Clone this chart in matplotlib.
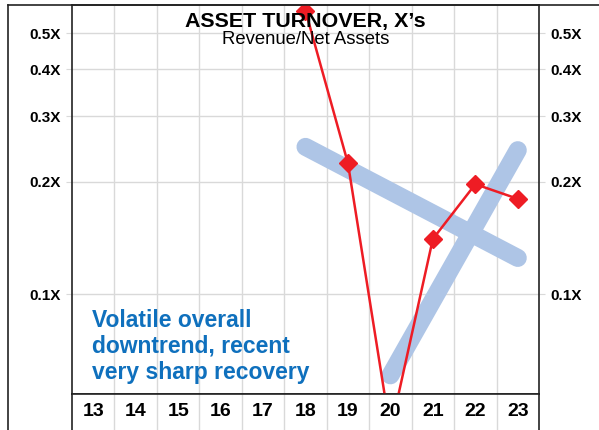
import matplotlib.pyplot as plt
import numpy as np
from matplotlib.lines import Line2D

plt.rcParams['font.family'] = ['Liberation Sans', 'DejaVu Sans']

years = [18, 19, 20, 21, 22, 23]
turnover = [0.574, 0.224, 0.043, 0.1405, 0.197, 0.180]

# hand drawn trend strokes
trend_down_x = [18, 23]
trend_down_y = [0.248, 0.125]
trend_up_x = [20, 23]
trend_up_y = [0.0606, 0.243]

cat_labels = ['13', '14', '15', '16', '17', '18', '19', '20', '21', '22', '23']
y_ticks = [0.1, 0.2, 0.3, 0.4, 0.5]
y_labels = ['0.1X', '0.2X', '0.3X', '0.4X', '0.5X']

W, H = 599, 430
fig = plt.figure(figsize=(W / 100, H / 100), dpi=100)

x0, x1 = 72 / W, 539 / W
ax = fig.add_axes([x0, 36 / H, x1 - x0, (394 - 5) / H])
tab = fig.add_axes([x0, 0, x1 - x0, 36 / H])

grid_c = '#d9d9d9'
blue = '#aec5e6'
red = '#ee1c24'

ax.set_yscale('log')
ax.set_ylim(0.054, 0.595)
ax.set_xlim(12.5, 23.5)

ax.plot(trend_down_x, trend_down_y, color=blue, lw=13, solid_capstyle='round', zorder=2)
ax.plot(trend_up_x, trend_up_y, color=blue, lw=13, solid_capstyle='round', zorder=2)
ax.plot(years, turnover, color=red, lw=1.8, marker='D', ms=9, zorder=3)

ax.set_xticks(np.arange(13.5, 23, 1))
ax.tick_params(axis='x', length=0, labelbottom=False)
ax.set_yticks(y_ticks)
ax.set_yticklabels(y_labels)
ax.minorticks_off()
ax.tick_params(axis='y', which='major', direction='out', length=4, color=grid_c,
               labelsize=11, left=True, right=True, labelleft=True, labelright=True, pad=4)
for lab in ax.get_yticklabels():
    lab.set_fontweight('bold')
ax.grid(True, color=grid_c, lw=1)
ax.set_axisbelow(True)
for s in ax.spines.values():
    s.set_color('#222222')
    s.set_linewidth(1.2)

ax.text(0.5, (394 - 27) / 389, "ASSET TURNOVER, X\u2019s", transform=ax.transAxes,
        ha='center', va='baseline', fontsize=15.4, fontweight='bold')
ax.text(0.5, (394 - 44) / 389, 'Revenue/Net Assets', transform=ax.transAxes,
        ha='center', va='baseline', fontsize=13.3)

ax.text(92 / W, 1 - 379 / H, 'Volatile overall\ndowntrend, recent\nvery sharp recovery',
        transform=fig.transFigure, ha='left', va='baseline', fontsize=16.5,
        fontweight='bold', color='#0f70bd', linespacing=1.18)

# category strip under the chart
tab.set_xlim(12.5, 23.5)
tab.set_ylim(0, 1)
for i, lab in enumerate(cat_labels):
    tab.text(13 + i, 0.5, lab, ha='center', va='center', fontsize=14, fontweight='bold')
for xv in np.arange(13.5, 23, 1):
    tab.axvline(xv, color=grid_c, lw=1)
tab.set_xticks([])
tab.set_yticks([])
tab.spines['bottom'].set_visible(False)
for s in ['left', 'right', 'top']:
    tab.spines[s].set_color('#222222')
    tab.spines[s].set_linewidth(1.2)

# outer frame
fig.add_artist(Line2D([8 / W, 8 / W], [0, 1 - 5 / H], color='#222222', lw=1.2))
fig.add_artist(Line2D([8 / W, 1], [1 - 5 / H, 1 - 5 / H], color='#222222', lw=1.2))

fig.savefig('out.png', dpi=100)
